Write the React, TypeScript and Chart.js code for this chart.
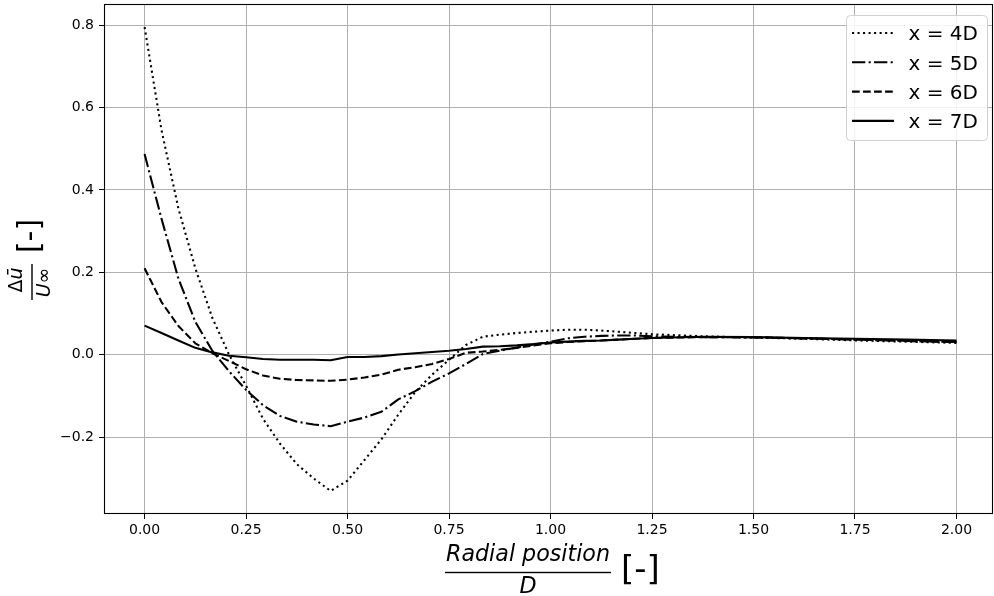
import React, { useEffect, useRef } from "react";
import { Chart, registerables } from "chart.js";

Chart.register(...registerables);

// ---- data ----
const radialPosition = [
  0, 0.0417, 0.0833, 0.125, 0.1667, 0.2083, 0.25, 0.2917, 0.3333, 0.375, 0.4167, 0.4583,
  0.5, 0.5417, 0.5833, 0.625, 0.6667, 0.7083, 0.75, 0.7917, 0.8333, 0.875, 0.9167, 0.9583,
  1.0, 1.0417, 1.0833, 1.125, 1.1667, 1.2083, 1.25, 1.375, 1.5, 1.625, 1.75, 1.875, 2.0,
];
const deltaU4D = [
  0.795, 0.545, 0.355, 0.21, 0.09, 0.0, -0.075, -0.155, -0.215, -0.265, -0.3, -0.33,
  -0.305, -0.255, -0.205, -0.145, -0.09, -0.048, -0.012, 0.024, 0.044, 0.049, 0.053, 0.056,
  0.059, 0.061, 0.061, 0.059, 0.056, 0.053, 0.05, 0.045, 0.042, 0.039, 0.035, 0.032, 0.029,
];
const deltaU5D = [
  0.487, 0.33, 0.185, 0.08, 0.01, -0.04, -0.085, -0.122, -0.148, -0.162, -0.169, -0.173,
  -0.162, -0.152, -0.138, -0.108, -0.088, -0.065, -0.045, -0.022, 0.002, 0.01, 0.018, 0.025,
  0.032, 0.04, 0.044, 0.046, 0.047, 0.047, 0.045, 0.043, 0.042, 0.04, 0.037, 0.034, 0.031,
];
const deltaU6D = [
  0.21, 0.128, 0.07, 0.028, 0.004, -0.015, -0.035, -0.05, -0.058, -0.061, -0.062, -0.063,
  -0.06, -0.055, -0.048, -0.036, -0.03, -0.022, -0.01, 0.005, 0.008, 0.012, 0.017, 0.023,
  0.028, 0.031, 0.033, 0.035, 0.037, 0.039, 0.041, 0.043, 0.043, 0.04, 0.037, 0.034, 0.031,
];
const deltaU7D = [
  0.071, 0.053, 0.035, 0.017, 0.006, -0.002, -0.006, -0.01, -0.012, -0.012, -0.012, -0.013,
  -0.005, -0.005, -0.003, 0.001, 0.004, 0.007, 0.01, 0.014, 0.02, 0.021, 0.023, 0.026,
  0.03, 0.032, 0.034, 0.035, 0.037, 0.039, 0.041, 0.044, 0.043, 0.041, 0.039, 0.037, 0.035,
];
const seriesLabels = ["x = 4D", "x = 5D", "x = 6D", "x = 7D"];
const xTickValues = [0, 0.25, 0.5, 0.75, 1, 1.25, 1.5, 1.75, 2];
const yTickValues = [-0.2, 0, 0.2, 0.4, 0.6, 0.8];
const xTitleNumerator = "Radial position";
const xTitleDenominator = "D";
const yTitleNumeratorA = "Δ";
const yTitleNumeratorB = "ū";
const yTitleDenominatorA = "U";
const yTitleDenominatorB = "∞";
const unitLabel = "[-]";

// ---- styles ----
const FONT = "'DejaVu Sans', sans-serif";
const LINE_COLOR = "#000000";
const LINE_WIDTH = 2.08;
const DASHES = [
  [2.08, 3.44],
  [13.3, 3.33, 2.08, 3.33],
  [7.7, 3.33],
  [],
];

const framePlugin = {
  id: "frameBox",
  afterDatasetsDraw(chart: any) {
    const { ctx, chartArea: a } = chart;
    ctx.save();
    ctx.strokeStyle = "#000";
    ctx.lineWidth = 1.1;
    ctx.strokeRect(a.left + 0.5, a.top + 0.5, a.right - a.left - 1, a.bottom - a.top - 1);
    ctx.restore();
  },
};

const legendPlugin = {
  id: "boxLegend",
  afterDraw(chart: any) {
    const { ctx, chartArea: a } = chart;
    const w = 141;
    const h = 125;
    const x0 = a.right - 5.5 - w;
    const y0 = a.top + 11.5;
    ctx.save();
    ctx.beginPath();
    ctx.roundRect(x0, y0, w, h, 4);
    ctx.fillStyle = "rgba(255,255,255,0.85)";
    ctx.fill();
    ctx.strokeStyle = "#d0d0d0";
    ctx.lineWidth = 1;
    ctx.stroke();
    chart.data.datasets.forEach((ds: any, i: number) => {
      const yy = y0 + 17.5 + i * 29.3;
      ctx.setLineDash(ds.borderDash || []);
      ctx.lineWidth = LINE_WIDTH;
      ctx.lineCap = "butt";
      ctx.strokeStyle = ds.borderColor;
      ctx.beginPath();
      ctx.moveTo(x0 + 5.5, yy);
      ctx.lineTo(x0 + 47.5, yy);
      ctx.stroke();
      ctx.setLineDash([]);
      ctx.fillStyle = "#000";
      ctx.font = `20px ${FONT}`;
      ctx.textAlign = "left";
      ctx.textBaseline = "alphabetic";
      ctx.fillText(ds.label, x0 + 62, yy + 7.3);
    });
    ctx.restore();
  },
};

const titlesPlugin = {
  id: "fractionTitles",
  afterDraw(chart: any) {
    const { ctx } = chart;
    ctx.save();
    ctx.fillStyle = "#000";
    ctx.textBaseline = "alphabetic";

    // x title: fraction + unit
    let fs = 22;
    ctx.font = `italic ${fs}px ${FONT}`;
    const wNum = ctx.measureText(xTitleNumerator).width;
    fs = (fs * 164) / wNum;
    ctx.font = `italic ${fs}px ${FONT}`;
    ctx.textAlign = "center";
    const cx = 528;
    ctx.fillText(xTitleNumerator, cx, 561);
    ctx.fillRect(445, 571.8, 166, 1.4);
    ctx.fillText(xTitleDenominator, cx, 593);
    ctx.textAlign = "left";
    ctx.font = `34px ${FONT}`;
    ctx.fillText(unitLabel, 621, 580);

    // y title (rotated)
    ctx.translate(32, 282);
    ctx.rotate(-Math.PI / 2);
    ctx.fillRect(-18, -0.7, 36, 1.4);
    ctx.textAlign = "left";
    ctx.font = `19px ${FONT}`;
    const wA = ctx.measureText(yTitleNumeratorA).width;
    ctx.font = `italic 19px ${FONT}`;
    const wB = ctx.measureText(yTitleNumeratorB).width;
    const startN = 2 - (wA + wB) / 2;
    ctx.font = `19px ${FONT}`;
    ctx.fillText(yTitleNumeratorA, startN, -10);
    ctx.font = `italic 19px ${FONT}`;
    ctx.fillText(yTitleNumeratorB, startN + wA, -10);
    ctx.font = `italic 19px ${FONT}`;
    const wU = ctx.measureText(yTitleDenominatorA).width;
    ctx.font = `19px ${FONT}`;
    const wInf = ctx.measureText(yTitleDenominatorB).width;
    const startD = -0.5 - (wU + wInf) / 2;
    ctx.font = `italic 19px ${FONT}`;
    ctx.fillText(yTitleDenominatorA, startD, 17.5);
    ctx.font = `19px ${FONT}`;
    ctx.fillText(yTitleDenominatorB, startD + wU, 17.5);
    ctx.textAlign = "center";
    ctx.font = `30px ${FONT}`;
    ctx.fillText(unitLabel, 46, 7);
    ctx.restore();
  },
};

function toPoints(values: number[]) {
  return values.map((v, i) => ({ x: radialPosition[i], y: v }));
}

export default function App() {
  const canvasRef = useRef<HTMLCanvasElement | null>(null);

  useEffect(() => {
    document.body.style.margin = "0";
    const canvas = canvasRef.current;
    if (!canvas) return;
    const series = [deltaU4D, deltaU5D, deltaU6D, deltaU7D];
    const chart = new Chart(canvas, {
      type: "line",
      data: {
        datasets: series.map((vals, i) => ({
          label: seriesLabels[i],
          data: toPoints(vals),
          borderColor: LINE_COLOR,
          borderWidth: LINE_WIDTH,
          borderDash: DASHES[i],
          borderCapStyle: "butt",
          borderJoinStyle: "round",
          pointRadius: 0,
          tension: 0,
          fill: false,
        })),
      },
      options: {
        animation: false,
        responsive: false,
        devicePixelRatio: 1,
        layout: { padding: { top: 4, right: 1, left: 0, bottom: 0 } },
        plugins: {
          legend: { display: false },
          tooltip: { enabled: false },
          title: { display: false },
        },
        scales: {
          x: {
            type: "linear",
            min: -0.1,
            max: 2.09,
            afterBuildTicks: (scale: any) => {
              scale.ticks = xTickValues.map((v) => ({ value: v }));
            },
            afterFit: (scale: any) => {
              scale.height = 82;
              scale.paddingLeft = 0;
              scale.paddingRight = 0;
            },
            ticks: {
              autoSkip: false,
              maxRotation: 0,
              padding: 3,
              color: "#000",
              font: { family: FONT, size: 14 },
              callback: (v: any) => Number(v).toFixed(2),
            },
            grid: {
              color: "#b0b0b0",
              lineWidth: 1,
              drawTicks: true,
              tickLength: 5,
              tickColor: "#000",
            },
            border: { display: false },
          },
          y: {
            type: "linear",
            min: -0.386,
            max: 0.851,
            afterBuildTicks: (scale: any) => {
              scale.ticks = yTickValues.map((v) => ({ value: v }));
            },
            afterFit: (scale: any) => {
              scale.width = 104;
              scale.paddingTop = 0;
              scale.paddingBottom = 0;
            },
            ticks: {
              autoSkip: false,
              padding: 5,
              color: "#000",
              font: { family: FONT, size: 14 },
              callback: (v: any) => {
                const n = Number(v);
                const s = Math.abs(n).toFixed(1);
                return n < -1e-9 ? "\u2212" + s : s;
              },
            },
            grid: {
              color: "#b0b0b0",
              lineWidth: 1,
              drawTicks: true,
              tickLength: 5,
              tickColor: "#000",
            },
            border: { display: false },
          },
        },
      },
      plugins: [framePlugin, legendPlugin, titlesPlugin],
    } as any);
    return () => chart.destroy();
  }, []);

  return (
    <div style={{ width: 994, height: 596, position: "relative" }}>
      <canvas ref={canvasRef} width={994} height={596} style={{ display: "block" }} />
    </div>
  );
}
